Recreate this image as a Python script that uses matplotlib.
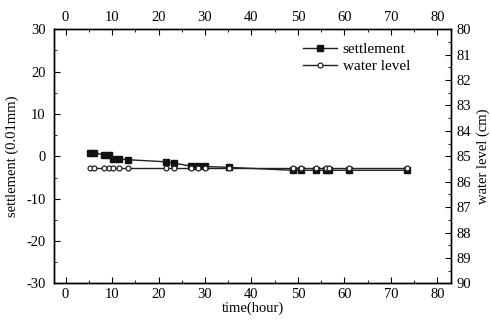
import numpy as np
import matplotlib.pyplot as plt

plt.rcParams['font.family'] = ['Liberation Serif', 'DejaVu Serif']
plt.rcParams['font.size'] = 10.5
plt.rcParams['axes.unicode_minus'] = False

# time (hour) for each reading
time_h = [5.2, 6.2, 8.2, 9.3, 10.3, 11.4, 13.4, 21.7, 23.3, 26.9, 28.4, 30.0,
          35.1, 49.0, 50.6, 53.9, 56.0, 56.7, 61.0, 73.4]
# settlement (0.01mm)
settlement = [0.8, 0.8, 0.4, 0.4, -0.6, -0.6, -0.8, -1.3, -1.6, -2.3, -2.3, -2.4,
              -2.6, -3.3, -3.3, -3.3, -3.3, -3.3, -3.3, -3.3]
# water level (cm)
water_level = [85.45, 85.45, 85.45, 85.45, 85.45, 85.45, 85.45, 85.45, 85.45, 85.45,
               85.45, 85.45, 85.45, 85.45, 85.45, 85.45, 85.45, 85.45, 85.45, 85.45]

fig = plt.figure(figsize=(4.91, 3.21), dpi=100)
ax = fig.add_axes([0.110, 0.117, 0.809, 0.792])

l1, = ax.plot(time_h, settlement, '-', color='#222222', lw=1.0,
              marker='s', ms=4, mfc='#111111', mec='#111111', label='settlement')
ax.set_xlim(-2.5, 83)
ax.set_ylim(-30, 30)
ax.set_xticks(np.arange(0, 81, 10))
ax.set_xticks(np.arange(0, 81, 5), minor=True)
ax.set_yticks(np.arange(-30, 31, 10))
ax.set_yticks(np.arange(-30, 31, 5), minor=True)
ax.set_xlabel('time(hour)', labelpad=0)
ax.set_ylabel('settlement (0.01mm)')
ax.yaxis.set_label_coords(-0.088, 0.5)
ax.tick_params(which='both', direction='in', top=True, labeltop=True)
ax.tick_params(which='major', length=4)
ax.tick_params(which='minor', length=2.5)
ax.tick_params(axis='y', pad=6)

ax2 = ax.twinx()
l2, = ax2.plot(time_h, water_level, '-', color='#222222', lw=1.0,
               marker='o', ms=3.5, mfc='white', mec='#222222', mew=0.9, label='water level')
ax2.set_ylim(90, 80)
ax2.set_yticks(np.arange(80, 91, 1))
ax2.set_yticks(np.arange(80, 90.1, 0.5), minor=True)
ax2.set_ylabel('water level (cm)')
ax2.yaxis.set_label_coords(1.064, 0.5)
ax2.tick_params(which='both', direction='in', pad=4)
ax2.tick_params(which='major', length=4)
ax2.tick_params(which='minor', length=2.5)

for a in (ax, ax2):
    for s in a.spines.values():
        s.set_linewidth(1.0)

ax.legend(handles=[l1, l2], loc='upper right', bbox_to_anchor=(0.912, 0.972),
          frameon=False, handlelength=2.2, handletextpad=0.4, labelspacing=0.2,
          borderaxespad=0, fontsize=11)

fig.savefig('out.png', dpi=100)
